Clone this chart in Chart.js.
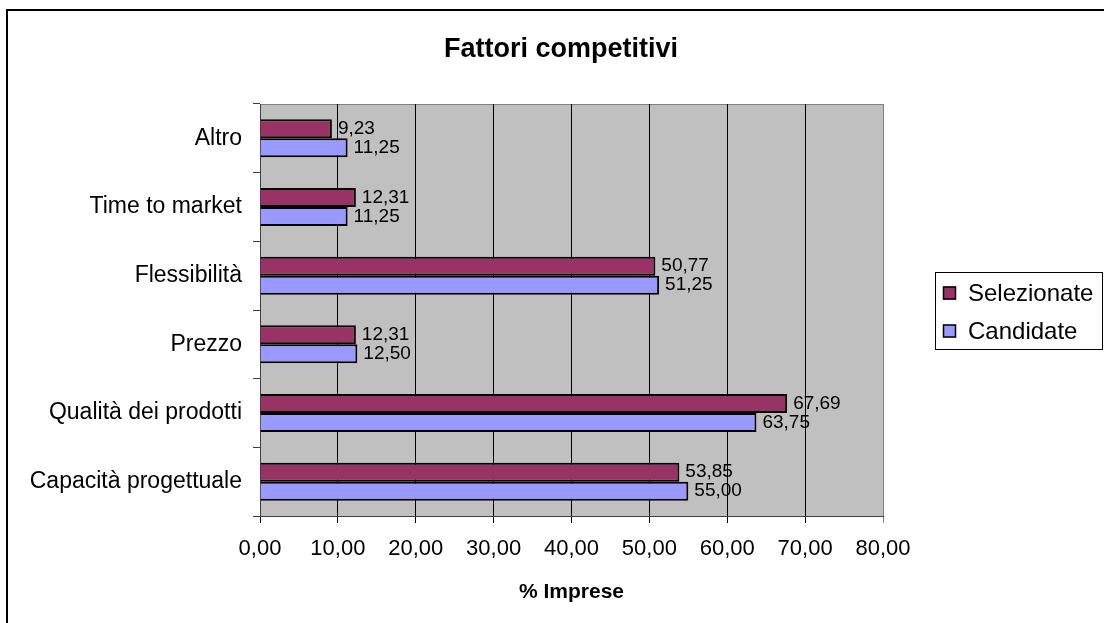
<!DOCTYPE html>
<html>
<head>
<meta charset="utf-8">
<script src="https://cdn.jsdelivr.net/npm/chart.js@4"></script>
<style>
    html, body { margin: 0; padding: 0; background: #fff; overflow: hidden; }
    #wrap { position: relative; width: 1104px; height: 623px; }
    .frame { position: absolute; left: 6px; top: 9px; width: 1200px; height: 800px; border: 2px solid #000; }
    #fattoriChart { position: absolute; left: 0; top: 0; }
</style>
</head>
<body>
<div id="wrap">
    <div class="frame"></div>
    <canvas id="fattoriChart" width="1104" height="623"></canvas>
</div>
<script>
const categorie = ['Altro', 'Time to market', 'Flessibilità', 'Prezzo', 'Qualità dei prodotti', 'Capacità progettuale'];
const selezionate = [9.23, 12.31, 50.77, 12.31, 67.69, 53.85];
const candidate = [11.25, 11.25, 51.25, 12.50, 63.75, 55.00];
const tickValori = [0, 10, 20, 30, 40, 50, 60, 70, 80];

const FONT = "'Liberation Sans', Arial, sans-serif";

function formatta(v) {
    return v.toFixed(2).replace('.', ',');
}

// sfondo grigio e bordo dell'area del grafico
const sfondoPlot = {
    id: 'sfondoPlot',
    beforeDraw(chart) {
        const { ctx, chartArea: a } = chart;
        ctx.save();
        ctx.fillStyle = '#C0C0C0';
        ctx.fillRect(a.left, a.top, a.right - a.left, a.bottom - a.top);
        ctx.strokeStyle = '#808080';
        ctx.lineWidth = 1;
        ctx.strokeRect(a.left + 0.5, a.top + 0.5, a.right - a.left, a.bottom - a.top);
        ctx.restore();
    }
};

// etichette dei valori a fine barra, titolo e legenda
const etichette = {
    id: 'etichette',
    afterDraw(chart) {
        const ctx = chart.ctx;
        ctx.save();
        ctx.fillStyle = '#000';
        ctx.font = '19px ' + FONT;
        ctx.textAlign = 'left';
        ctx.textBaseline = 'middle';
        chart.data.datasets.forEach(function (ds, i) {
            chart.getDatasetMeta(i).data.forEach(function (bar, j) {
                ctx.fillText(formatta(ds.data[j]), bar.x + 6, bar.y);
            });
        });

        ctx.font = 'bold 27px ' + FONT;
        ctx.textAlign = 'center';
        ctx.fillText('Fattori competitivi', 561, 50);

        // legenda
        ctx.strokeStyle = '#000';
        ctx.lineWidth = 1;
        ctx.strokeRect(935.5, 272.5, 167, 77);
        ctx.font = '24px ' + FONT;
        ctx.textAlign = 'left';
        chart.data.datasets.forEach(function (ds, i) {
            const y = 293 + i * 38;
            ctx.fillStyle = ds.backgroundColor;
            ctx.fillRect(943, y - 6.5, 13, 13);
            ctx.lineWidth = 1.5;
            ctx.strokeRect(943.5, y - 6, 12, 12);
            ctx.fillStyle = '#000';
            ctx.fillText(ds.label, 968, y + 1);
        });
        ctx.restore();
    }
};

function createBarChart() {
    const ctx = document.getElementById('fattoriChart').getContext('2d');
    new Chart(ctx, {
        type: 'bar',
        data: {
            labels: categorie,
            datasets: [{
                label: 'Selezionate',
                data: selezionate,
                backgroundColor: '#993366',
                borderColor: '#000',
                borderWidth: 2,
                barPercentage: 1,
                categoryPercentage: 0.553
            }, {
                label: 'Candidate',
                data: candidate,
                backgroundColor: '#9999FF',
                borderColor: '#000',
                borderWidth: 2,
                barPercentage: 1,
                categoryPercentage: 0.553
            }]
        },
        options: {
            indexAxis: 'y',
            responsive: false,
            animation: false,
            layout: {
                padding: { top: 104, left: 10, right: 221, bottom: 10 }
            },
            plugins: {
                legend: { display: false },
                tooltip: { enabled: false },
                title: { display: false }
            },
            scales: {
                x: {
                    min: 0,
                    max: 80,
                    afterBuildTicks: function (scale) {
                        scale.ticks = tickValori.map(function (v) { return { value: v }; });
                    },
                    afterFit: function (scale) {
                        scale.height = 97;
                    },
                    grid: {
                        color: function (c) {
                            return c.index === tickValori.length - 1 ? '#808080' : '#000';
                        },
                        lineWidth: 1,
                        tickLength: 7
                    },
                    border: { color: '#404040', width: 1 },
                    ticks: {
                        color: '#000',
                        font: { family: FONT, size: 22 },
                        padding: 13,
                        callback: function (v) { return formatta(v); }
                    },
                    title: {
                        display: true,
                        text: '% Imprese',
                        color: '#000',
                        font: { family: FONT, size: 21, weight: 'bold' },
                        padding: { top: 0, bottom: 8 }
                    }
                },
                y: {
                    afterFit: function (scale) {
                        scale.width = 250;
                    },
                    grid: {
                        drawOnChartArea: false,
                        color: '#404040',
                        tickLength: 7
                    },
                    border: { color: '#404040', width: 1 },
                    ticks: {
                        color: '#000',
                        font: { family: FONT, size: 23 },
                        padding: 11
                    }
                }
            }
        },
        plugins: [sfondoPlot, etichette]
    });
}

document.addEventListener('DOMContentLoaded', function () {
    createBarChart();
});
</script>
</body>
</html>
